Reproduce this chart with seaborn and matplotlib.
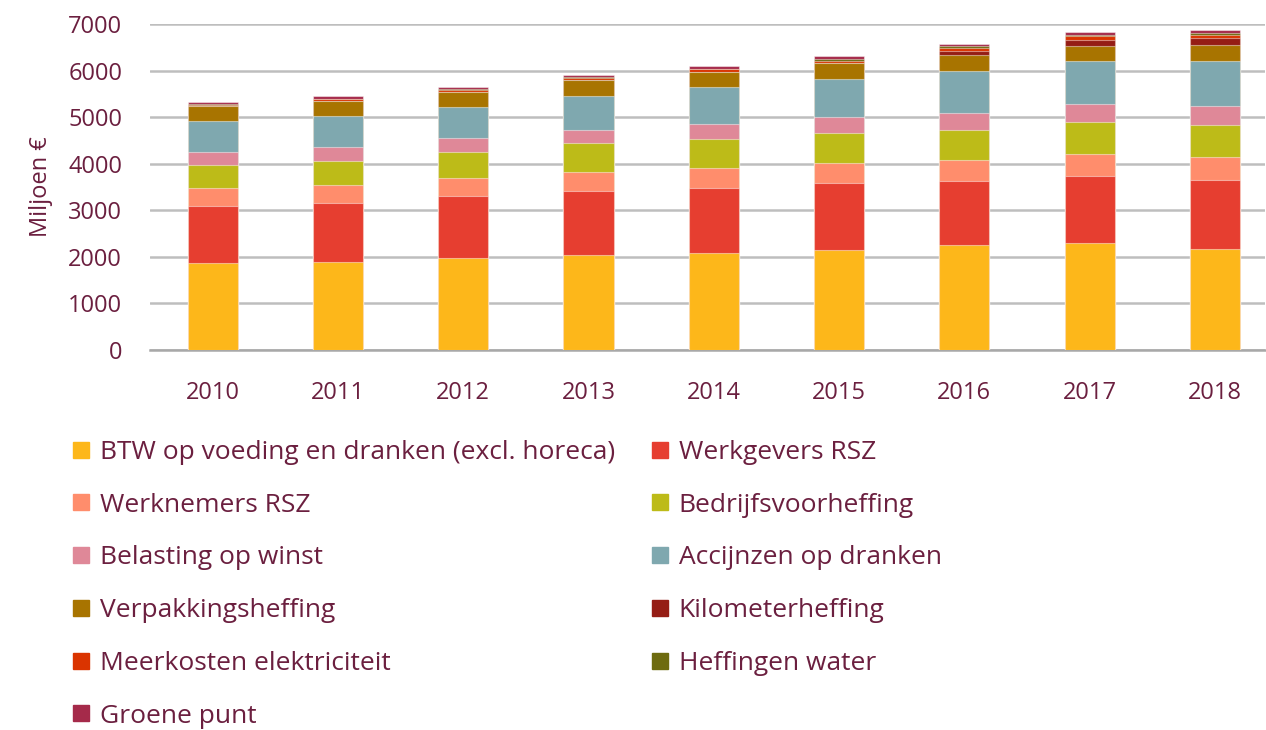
import matplotlib
matplotlib.use("Agg")
import matplotlib.pyplot as plt
from matplotlib.lines import Line2D
import numpy as np
import pandas as pd
import seaborn as sns

years = ["2010", "2011", "2012", "2013", "2014", "2015", "2016", "2017", "2018"]

series_names = [
    "BTW op voeding en dranken (excl. horeca)",
    "Werkgevers RSZ",
    "Werknemers RSZ",
    "Bedrijfsvoorheffing",
    "Belasting op winst",
    "Accijnzen op dranken",
    "Verpakkingsheffing",
    "Kilometerheffing",
    "Meerkosten elektriciteit",
    "Heffingen water",
    "Groene punt",
]

btw = [1871, 1892, 1978, 2043, 2086, 2157, 2251, 2301, 2179]
werkgevers_rsz = [1226, 1262, 1319, 1362, 1383, 1420, 1383, 1427, 1469]
werknemers_rsz = [372, 387, 395, 423, 430, 433, 445, 480, 495]
bedrijfsvoorheffing = [494, 524, 559, 609, 631, 642, 645, 681, 692]
belasting_winst = [288, 294, 294, 287, 323, 359, 366, 395, 398]
accijnzen = [667, 658, 681, 738, 788, 817, 910, 916, 982]
verpakking = [315, 323, 308, 329, 323, 337, 337, 331, 344]
kilometer = [0, 0, 0, 0, 0, 0, 78, 121, 136]
meerkosten = [30, 40, 45, 50, 60, 50, 72, 86, 65]
heffingen_water = [20, 20, 20, 20, 20, 35, 36, 36, 43]
groene_punt = [50, 55, 45, 46, 49, 58, 50, 50, 72]

colors = [
    "#FDB71A", "#E63E30", "#FF8D6C", "#BDBB18", "#DF8898", "#7FA8AF",
    "#A87400", "#951D15", "#DA3400", "#6E6B0F", "#A52A4A",
]

values = [btw, werkgevers_rsz, werknemers_rsz, bedrijfsvoorheffing,
          belasting_winst, accijnzen, verpakking, kilometer, meerkosten,
          heffingen_water, groene_punt]

text_color = "#6B1F3F"

sns.set_theme(style="white")
plt.rcParams["font.family"] = ["Open Sans", "DejaVu Sans"]

fig = plt.figure(figsize=(12.66, 7.30), dpi=100)
ax = fig.add_axes([150 / 1266, 1 - 350 / 730, 1115 / 1266, 326 / 730])

# stacked bars: draw cumulative totals from the top layer downwards
cum = np.cumsum(np.array(values, dtype=float), axis=0)
for i in range(len(series_names) - 1, -1, -1):
    df = pd.DataFrame({"jaar": years, "waarde": cum[i]})
    sns.barplot(data=df, x="jaar", y="waarde", color=colors[i], width=0.4,
                saturation=1, edgecolor=(1, 1, 1, 0.45), linewidth=0.8,
                ax=ax, zorder=3)

ax.set_xlim(-0.5, 8.4)
ax.set_ylim(0, 7000)
ax.set_yticks(range(0, 7001, 1000))
ax.yaxis.grid(True, color="#BEBEBE", linewidth=1.8, zorder=0)
ax.set_axisbelow(True)
for s in ["top", "right", "left"]:
    ax.spines[s].set_visible(False)
ax.spines["bottom"].set_color("#A8A8A8")
ax.spines["bottom"].set_linewidth(1.8)
ax.tick_params(axis="both", length=0, labelsize=17, colors=text_color)
ax.tick_params(axis="y", pad=20)
ax.tick_params(axis="x", pad=22)
ax.set_xlabel("")
ax.set_ylabel("Miljoen €", fontsize=17, color=text_color, labelpad=11)

handles = [Line2D([], [], linestyle="none", marker="s", markersize=11,
                  markerfacecolor=c, markeredgecolor=c) for c in colors]

left_idx = [0, 2, 4, 6, 8, 10]
right_idx = [1, 3, 5, 7, 9]
common = dict(frameon=False, fontsize=19, labelcolor=text_color,
              handlelength=0.65, handletextpad=0.4, labelspacing=1.05,
              borderpad=0, borderaxespad=0, loc="upper left")
leg1 = fig.legend([handles[i] for i in left_idx],
                  [series_names[i] for i in left_idx],
                  bbox_to_anchor=(72 / 1266, 1 - 440 / 730), **common)
leg2 = fig.legend([handles[i] for i in right_idx],
                  [series_names[i] for i in right_idx],
                  bbox_to_anchor=(651 / 1266, 1 - 440 / 730), **common)

fig.savefig("out.png", dpi=100)
